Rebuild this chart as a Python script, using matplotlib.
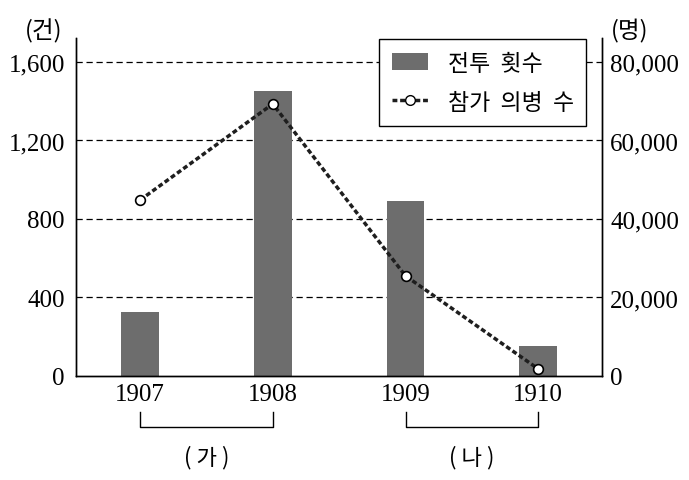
import matplotlib
matplotlib.use("Agg")
import matplotlib.pyplot as plt
from matplotlib.patches import Patch
from matplotlib.lines import Line2D
from matplotlib.ticker import FuncFormatter

# data
years = ["1907", "1908", "1909", "1910"]
battles = [326, 1452, 892, 153]          # 전투 횟수 (건)
fighters = [44800, 69300, 25500, 1800]   # 참가 의병 수 (명)
left_ticks = [0, 400, 800, 1200, 1600]
right_ticks = [0, 20000, 40000, 60000, 80000]
groups = [("( 가 )", 0, 1), ("( 나 )", 2, 3)]

num_font = "Liberation Serif"
kr_font = ["Noto Sans CJK KR", "DejaVu Sans"]
bar_color = "#6d6d6d"
line_color = "#1e1e1e"

W, H = 689, 481
fig = plt.figure(figsize=(W / 100, H / 100), dpi=100)
ax = fig.add_axes([76 / W, 1 - 377 / H, (602 - 76) / W, (377 - 39) / H])
ax2 = ax.twinx()

x = list(range(len(years)))
ax.bar(x, battles, width=0.286, color=bar_color, zorder=2)
ax.set_xlim(-0.482, 3.48)
ax.set_ylim(0, 1722)
ax2.set_ylim(0, 1722 * 50)

for t in left_ticks[1:]:
    ax.axhline(t, color="black", lw=0.9, ls=(0, (5, 3)), zorder=1)

ax2.plot(x, fighters, color=line_color, lw=2.5, ls=(0, (1.4, 0.8)),
         marker="o", ms=7, mfc="white", mec="black", mew=1.2, zorder=3)

ax.set_yticks(left_ticks)
ax2.set_yticks(right_ticks)
fmt = FuncFormatter(lambda v, p: f"{int(v):,}")
ax.yaxis.set_major_formatter(fmt)
ax2.yaxis.set_major_formatter(fmt)
ax.set_xticks(x)
ax.set_xticklabels(years)

for a in (ax, ax2):
    a.spines["top"].set_visible(False)
    for s in a.spines.values():
        s.set_linewidth(1.0)
ax.tick_params(axis="both", length=0, labelsize=18)
ax.tick_params(axis="y", pad=8)
ax.tick_params(axis="x", pad=5)
ax2.tick_params(axis="y", length=0, labelsize=18, pad=6)
for lab in ax.get_xticklabels() + ax.get_yticklabels() + ax2.get_yticklabels():
    lab.set_family(num_font)

# unit labels
fig.text(44 / W, 1 - 31 / H, "(건)", family=kr_font, fontsize=17, ha="center", va="center")
fig.text(630 / W, 1 - 31 / H, "(명)", family=kr_font, fontsize=17, ha="center", va="center")

# brackets under the x axis
tr = ax.get_xaxis_transform()
for label, a0, a1 in groups:
    ax.plot([a0, a0, a1, a1], [-0.1065, -0.151, -0.151, -0.1065], color="black",
            lw=1.0, transform=tr, clip_on=False)
    ax.text((a0 + a1) / 2, -0.237, label, family=kr_font, fontsize=16,
            ha="center", va="center", transform=tr)

handles = [
    Patch(facecolor=bar_color, edgecolor="none"),
    Line2D([0], [0], color=line_color, lw=2.5, ls=(0, (1.4, 0.8)), marker="o",
           ms=7, mfc="white", mec="black", mew=1.0),
]
leg = fig.legend(handles, ["전투  횟수", "참가  의병  수"], loc="upper left",
                 bbox_to_anchor=(379 / W, 1 - 40 / H), prop={"family": kr_font, "size": 16.5},
                 frameon=True, fancybox=False, framealpha=1, edgecolor="black",
                 handlelength=1.6, handleheight=0.8, handletextpad=0.85,
                 labelspacing=0.7, borderpad=0.55, borderaxespad=0)
leg.get_frame().set_linewidth(1.0)

fig.savefig("out.png", dpi=100)
